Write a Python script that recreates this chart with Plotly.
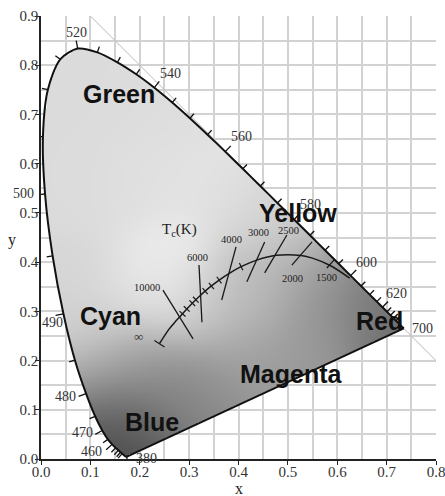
import numpy as np
import plotly.graph_objects as go

# ---------------- data ----------------
wavelengths = list(range(380, 705, 5))
locus_x = [0.1741, 0.1740, 0.1738, 0.1736, 0.1733, 0.1730, 0.1726, 0.1721, 0.1714, 0.1703,
           0.1689, 0.1669, 0.1644, 0.1611, 0.1566, 0.1510, 0.1440, 0.1355, 0.1241, 0.1096,
           0.0913, 0.0687, 0.0454, 0.0235, 0.0082, 0.0039, 0.0139, 0.0389, 0.0743, 0.1142,
           0.1547, 0.1929, 0.2296, 0.2658, 0.3016, 0.3373, 0.3731, 0.4087, 0.4441, 0.4788,
           0.5125, 0.5448, 0.5752, 0.6029, 0.6270, 0.6482, 0.6658, 0.6801, 0.6915, 0.7006,
           0.7079, 0.7140, 0.7190, 0.7230, 0.7260, 0.7283, 0.7300, 0.7311, 0.7320, 0.7327,
           0.7334, 0.7340, 0.7344, 0.7346, 0.7347]
locus_y = [0.0050, 0.0050, 0.0049, 0.0049, 0.0048, 0.0048, 0.0048, 0.0048, 0.0051, 0.0058,
           0.0069, 0.0086, 0.0109, 0.0138, 0.0177, 0.0227, 0.0297, 0.0399, 0.0578, 0.0868,
           0.1327, 0.2007, 0.2950, 0.4127, 0.5384, 0.6548, 0.7502, 0.8120, 0.8338, 0.8262,
           0.8059, 0.7816, 0.7543, 0.7243, 0.6923, 0.6589, 0.6245, 0.5896, 0.5547, 0.5202,
           0.4866, 0.4544, 0.4242, 0.3965, 0.3725, 0.3514, 0.3340, 0.3197, 0.3083, 0.2993,
           0.2920, 0.2859, 0.2809, 0.2770, 0.2740, 0.2717, 0.2700, 0.2689, 0.2680, 0.2673,
           0.2666, 0.2660, 0.2656, 0.2654, 0.2653]
tick_wavelengths = list(range(440, 645, 5))
label_wavelengths = [380, 460, 470, 480, 490, 500, 520, 540, 560, 580, 600, 620, 700]

planck_T = ["inf", 20000, 15000, 12000, 10000, 9000, 8000, 7000, 6500, 6000, 5500, 5000,
            4500, 4000, 3500, 3000, 2500, 2000, 1800, 1500, 1200]
planck_x = [0.2399, 0.2568, 0.2637, 0.2719, 0.2807, 0.2866, 0.2952, 0.3064, 0.3135, 0.3221,
            0.3324, 0.3451, 0.3608, 0.3805, 0.4053, 0.4369, 0.4770, 0.5267, 0.5496, 0.5857, 0.6251]
planck_y = [0.2342, 0.2604, 0.2690, 0.2790, 0.2883, 0.2950, 0.3048, 0.3166, 0.3237, 0.3318,
            0.3410, 0.3516, 0.3636, 0.3768, 0.3907, 0.4041, 0.4137, 0.4133, 0.4081, 0.3931, 0.3674]
planck_tick_T = [9000, 8000, 7000, 6500, 5500, 5000, 4500, 3500]

iso_T = [10000, 6000, 4000, 3000, 2500, 2000, 1500]
iso_top_x = [0.247, 0.320, 0.395, 0.453, 0.498, 0.549, 0.595]
iso_top_y = [0.343, 0.394, 0.431, 0.441, 0.455, 0.441, 0.406]
iso_bot_x = [0.308, 0.326, 0.366, 0.417, 0.453, 0.508, 0.579]
iso_bot_y = [0.244, 0.278, 0.323, 0.360, 0.378, 0.394, 0.388]

region_names = ["Green", "Yellow", "Cyan", "Red", "Magenta", "Blue"]
region_x = [0.157, 0.521, 0.140, 0.686, 0.508, 0.225]
region_y = [0.742, 0.500, 0.291, 0.280, 0.173, 0.076]

x_ticks = [0.0, 0.1, 0.2, 0.3, 0.4, 0.5, 0.6, 0.7, 0.8]
y_ticks = [0.0, 0.1, 0.2, 0.3, 0.4, 0.5, 0.6, 0.7, 0.8, 0.9]
diag_x = [0.1, 0.8]

# ---------------- style ----------------
SERIF = "Liberation Serif, Times New Roman, serif"
SANS = "Liberation Sans, Arial, sans-serif"
PXX, PXY = 493.75, 492.2  # pixels per data unit
label_shift = {380: (20, -2), 460: (-21, -7), 470: (-20, -2), 480: (-21, -3), 490: (-11, -9),
               500: (-22, 0), 520: (-1, 16), 540: (16, 14), 560: (16, 15), 580: (16, 15),
               600: (16, 13), 620: (14, 14), 700: (19, 0)}
iso_label_style = {10000: ("top", -16, 3), 6000: ("top", -2, 8), 4000: ("top", -5, 7),
                   3000: ("top", -6, 9), 2500: ("top", 2, 5), 2000: ("bot", 1, -13),
                   1500: ("bot", 0, -9)}
# gray shading of the gamut (style): anchor points (x, y, gray level)
SHADE = [(0.05, 0.75, 0.86), (0.15, 0.74, 0.86), (0.25, 0.70, 0.87), (0.10, 0.55, 0.86),
         (0.20, 0.55, 0.88), (0.33, 0.58, 0.89), (0.42, 0.50, 0.86), (0.50, 0.46, 0.80),
         (0.27, 0.40, 0.93), (0.20, 0.33, 0.90), (0.08, 0.35, 0.84), (0.10, 0.25, 0.80),
         (0.13, 0.15, 0.60), (0.20, 0.20, 0.66), (0.30, 0.30, 0.85), (0.38, 0.33, 0.78),
         (0.45, 0.36, 0.70), (0.56, 0.37, 0.60), (0.65, 0.31, 0.50), (0.72, 0.27, 0.42),
         (0.56, 0.26, 0.60), (0.45, 0.21, 0.60), (0.35, 0.17, 0.58), (0.30, 0.11, 0.52),
         (0.22, 0.08, 0.42), (0.17, 0.03, 0.25), (0.15, 0.07, 0.35), (0.40, 0.26, 0.70),
         (0.25, 0.15, 0.55)]

lx = np.array(locus_x); ly = np.array(locus_y)


def normal_at(i):
    a = max(i - 1, 0); b = min(i + 1, len(lx) - 1)
    dx = (lx[b] - lx[a]) * PXX; dy = (ly[b] - ly[a]) * PXY
    n = np.hypot(dx, dy)
    return -dy / n, dx / n


# ---------------- gamut shading (heatmap masked outside locus) ----------------
step = 0.0025
gx = np.arange(0, 0.8 + step / 2, step)
gy = np.arange(0, 0.9 + step / 2, step)
GX, GY = np.meshgrid(gx, gy)
polyx = np.append(lx, lx[0]); polyy = np.append(ly, ly[0])
inside = np.zeros(GX.shape, dtype=bool)
j = len(polyx) - 1
for i in range(len(polyx)):
    xi, yi, xj, yj = polyx[i], polyy[i], polyx[j], polyy[j]
    cond = ((yi > GY) != (yj > GY)) & (GX < (xj - xi) * (GY - yi) / (yj - yi + 1e-12) + xi)
    inside ^= cond
    j = i
num = np.zeros(GX.shape); den = np.zeros(GX.shape)
for ax_, ay_, g in SHADE:
    w = np.exp(-((GX - ax_) ** 2 + (GY - ay_) ** 2) / (2 * 0.06 ** 2))
    num += w * g; den += w
Z = np.round(num / (den + 1e-12), 3)
Z[~inside] = np.nan

fig = go.Figure()
fig.add_trace(go.Scatter(x=diag_x, y=[1 - v for v in diag_x], mode="lines",
                         line=dict(color="#b8b8b8", width=1), hoverinfo="skip"))
fig.add_trace(go.Heatmap(x=gx, y=gy, z=Z, zmin=0, zmax=1, showscale=False,
                         colorscale=[[0, "#000000"], [1, "#ffffff"]], hoverinfo="skip"))

# spectral locus outline (smooth) + purple line
fig.add_trace(go.Scatter(x=locus_x, y=locus_y, mode="lines",
                         line=dict(color="#111111", width=2, shape="spline", smoothing=0.8),
                         hoverinfo="skip"))
fig.add_trace(go.Scatter(x=[locus_x[-1], locus_x[0]], y=[locus_y[-1], locus_y[0]], mode="lines",
                         line=dict(color="#111111", width=2), hoverinfo="skip"))

# locus ticks
tx, ty = [], []
for w in tick_wavelengths + [380]:
    i = wavelengths.index(w)
    nx, ny = normal_at(i)
    L = 8 if w in label_wavelengths else 6
    tx += [lx[i], lx[i] + nx * L / PXX, None]
    ty += [ly[i], ly[i] + ny * L / PXY, None]
fig.add_trace(go.Scatter(x=tx, y=ty, mode="lines", line=dict(color="#111111", width=1.3),
                         hoverinfo="skip"))

# Planckian locus
fig.add_trace(go.Scatter(x=planck_x, y=planck_y, mode="lines",
                         line=dict(color="#1a1a1a", width=1.5, shape="spline"), hoverinfo="skip"))
px_ = np.array(planck_x); py_ = np.array(planck_y)
ptx, pty = [], []
for T in planck_tick_T + ["inf"]:
    i = planck_T.index(T)
    a = max(i - 1, 0); b = min(i + 1, len(px_) - 1)
    dx = (px_[b] - px_[a]) * PXX; dy = (py_[b] - py_[a]) * PXY
    n = np.hypot(dx, dy); nx, ny = -dy / n, dx / n
    L = 4 if T != "inf" else 6
    ptx += [px_[i] - nx * L / PXX, px_[i] + nx * L / PXX, None]
    pty += [py_[i] - ny * L / PXY, py_[i] + ny * L / PXY, None]
fig.add_trace(go.Scatter(x=ptx, y=pty, mode="lines", line=dict(color="#1a1a1a", width=1.2),
                         hoverinfo="skip"))

# isotherms
ix, iy = [], []
for k in range(len(iso_T)):
    ix += [iso_top_x[k], iso_bot_x[k], None]
    iy += [iso_top_y[k], iso_bot_y[k], None]
fig.add_trace(go.Scatter(x=ix, y=iy, mode="lines", line=dict(color="#1a1a1a", width=1.3),
                         hoverinfo="skip"))

ann = []
for w in label_wavelengths:
    i = wavelengths.index(w)
    sx, sy = label_shift[w]
    ann.append(dict(x=locus_x[i], y=locus_y[i], text=str(w), showarrow=False,
                    xshift=sx, yshift=sy, font=dict(family=SERIF, size=14, color="#333333")))
for k, T in enumerate(iso_T):
    end, sx, sy = iso_label_style[T]
    xx, yy = (iso_top_x[k], iso_top_y[k]) if end == "top" else (iso_bot_x[k], iso_bot_y[k])
    ann.append(dict(x=xx, y=yy, text=str(T), showarrow=False, xshift=sx, yshift=sy,
                    font=dict(family=SERIF, size=10.5, color="#222222")))
ann.append(dict(x=planck_x[0], y=planck_y[0], text="∞", showarrow=False, xshift=-21, yshift=7,
                font=dict(family=SERIF, size=13, color="#333333")))
ann.append(dict(x=0.281, y=0.465, text="T<sub>c</sub>(K)", showarrow=False,
                font=dict(family=SERIF, size=15, color="#222222")))
for name, x, y in zip(region_names, region_x, region_y):
    ann.append(dict(x=x, y=y, text="<b>%s</b>" % name, showarrow=False,
                    font=dict(family=SANS, size=25, color="#111111")))
ann.append(dict(x=0.5, y=0, xref="paper", yref="paper", text="x", showarrow=False,
                xanchor="center", yanchor="middle", yshift=-29,
                font=dict(family=SERIF, size=16, color="#222222")))
ann.append(dict(x=0, y=0.5, xref="paper", yref="paper", text="y", showarrow=False,
                xanchor="center", yanchor="middle", xshift=-29, yshift=-2,
                font=dict(family=SERIF, size=16, color="#222222")))

axis_common = dict(showgrid=True, gridcolor="#d2d2d2", gridwidth=1.5, zeroline=False,
                   showline=True, linecolor="#222222", linewidth=1.5, ticks="outside",
                   ticklen=4, tickcolor="#222222", tickformat=".1f", ticklabelstandoff=-6,
                   ticklabeloverflow="allow", automargin=False,
                   tickfont=dict(family=SERIF, size=15, color="#333333"),
                   minor=dict(dtick=0.05, showgrid=True, gridcolor="#d2d2d2", gridwidth=1.5, ticks=""))
fig.update_layout(
    width=445, height=496, autosize=False,
    margin=dict(l=41, r=9, t=16, b=37),
    plot_bgcolor="white", paper_bgcolor="white",
    showlegend=False,
    xaxis=dict(range=[0, 0.8], tickvals=x_ticks, **axis_common),
    yaxis=dict(range=[0, 0.9], tickvals=y_ticks, **axis_common),
    annotations=ann,
)
fig.write_html("out.html", config={"displayModeBar": False},
               post_script="document.body.style.margin='0';")
